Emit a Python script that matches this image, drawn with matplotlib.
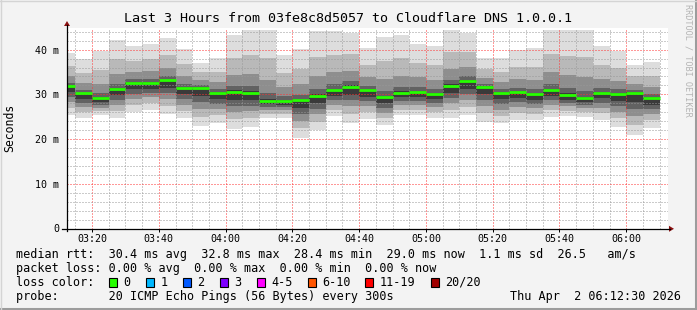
import matplotlib
matplotlib.use("Agg")
import matplotlib.pyplot as plt
import matplotlib.dates as mdates
from matplotlib.lines import Line2D
from matplotlib.patches import Polygon, Rectangle
from matplotlib.ticker import MultipleLocator, FuncFormatter
import pandas as pd

# 5 minute rounds (end of each round), 03:15 .. 06:10
rounds = pd.date_range("2026-04-02 03:15", "2026-04-02 06:10", freq="5min")

median = [31.9, 30.2, 29.1, 31.3, 32.6, 32.6, 33.1, 31.5, 31.5, 30.4,
          30.6, 30.4, 28.6, 28.6, 28.8, 29.7, 30.9, 31.7, 30.9, 29.4,
          30.4, 30.6, 30.1, 31.9, 32.9, 31.7, 30.4, 30.6, 30.1, 30.9,
          29.9, 29.2, 30.4, 30.1, 30.4, 29.2]
ping_min = [25.4, 24.8, 25.3, 24.6, 26.0, 26.6, 25.5, 24.6, 22.9, 23.7,
            22.3, 22.8, 24.8, 24.6, 20.3, 22.0, 25.1, 23.7, 24.4, 23.1,
            25.3, 25.3, 24.6, 24.8, 25.3, 23.8, 23.5, 24.2, 24.3, 25.0,
            25.1, 25.0, 24.3, 22.8, 20.8, 22.5]
ping_max = [39.2, 37.8, 39.7, 42.1, 40.8, 41.3, 42.6, 40.1, 37.1, 38.1,
            43.2, 44.4, 44.4, 38.8, 40.1, 44.2, 44.2, 43.8, 40.4, 42.8,
            43.2, 41.2, 40.8, 44.4, 43.8, 38.2, 38.2, 39.9, 40.3, 44.4,
            44.4, 44.4, 40.8, 39.6, 36.6, 37.3]

# inner smoke layers, outer to inner
band2_lo = [27.0, 26.1, 26.2, 26.3, 27.6, 28.1, 27.4, 26.3, 25.0, 25.4,
            24.4, 24.7, 25.7, 25.6, 22.4, 23.9, 26.5, 25.7, 26.0, 24.7,
            26.6, 26.6, 26.0, 26.6, 27.2, 25.8, 25.2, 25.8, 25.7, 26.5,
            26.3, 26.0, 25.8, 24.6, 23.2, 24.2]
band2_hi = [36.3, 34.8, 35.5, 37.8, 37.5, 37.8, 38.8, 36.7, 34.9, 35.0,
            38.2, 38.8, 38.1, 34.7, 35.6, 38.4, 38.9, 39.0, 36.6, 37.4,
            38.1, 37.0, 36.5, 39.4, 39.4, 35.6, 35.1, 36.2, 36.2, 39.0,
            38.6, 38.3, 36.6, 35.8, 34.1, 34.1]
band3_lo = [28.3, 27.2, 27.0, 27.6, 29.0, 29.3, 28.9, 27.7, 26.8, 26.7,
            26.0, 26.2, 26.5, 26.4, 24.1, 25.5, 27.7, 27.3, 27.3, 25.9,
            27.6, 27.7, 27.1, 28.0, 28.7, 27.4, 26.6, 27.1, 26.9, 27.7,
            27.3, 26.9, 27.0, 26.1, 25.1, 25.5]
band3_hi = [34.1, 32.5, 32.3, 34.5, 35.1, 35.2, 36.0, 34.1, 33.2, 32.7,
            34.4, 34.6, 33.3, 31.7, 32.2, 34.1, 34.9, 35.3, 33.8, 33.4,
            34.2, 33.8, 33.3, 35.7, 36.2, 33.7, 32.7, 33.4, 33.2, 35.0,
            34.3, 33.8, 33.5, 33.0, 32.3, 31.6]
band4_lo = [29.4, 28.1, 27.7, 28.8, 30.1, 30.3, 30.2, 28.9, 28.2, 27.9,
            27.4, 27.5, 27.2, 27.1, 25.6, 26.8, 28.7, 28.7, 28.4, 27.0,
            28.5, 28.6, 28.0, 29.2, 30.0, 28.7, 27.8, 28.2, 27.9, 28.7,
            28.1, 27.6, 28.1, 27.3, 26.8, 26.7]
band4_hi = [32.6, 31.0, 30.2, 32.4, 33.4, 33.5, 34.1, 32.4, 32.1, 31.2,
            31.9, 31.8, 30.2, 29.6, 29.9, 31.1, 32.2, 32.9, 31.9, 30.7,
            31.7, 31.7, 31.2, 33.2, 34.0, 32.4, 31.2, 31.5, 31.1, 32.3,
            31.4, 30.7, 31.4, 31.1, 31.0, 30.0]
band5_lo = [30.5, 29.0, 28.3, 29.8, 31.1, 31.3, 31.4, 30.0, 29.6, 28.9,
            28.8, 28.7, 27.8, 27.7, 26.9, 28.0, 29.6, 29.9, 29.5, 28.0,
            29.3, 29.4, 28.9, 30.3, 31.2, 30.0, 28.9, 29.2, 28.8, 29.6,
            28.8, 28.3, 29.1, 28.5, 28.3, 27.7]
band5_hi = [32.1, 30.4, 29.3, 31.5, 32.8, 32.8, 33.3, 31.7, 31.7, 30.6,
            30.9, 30.7, 28.9, 28.8, 29.0, 30.0, 31.2, 32.0, 31.1, 29.7,
            30.7, 30.8, 30.3, 32.2, 33.1, 31.8, 30.6, 30.8, 30.3, 31.2,
            30.2, 29.5, 30.6, 30.3, 30.5, 29.4]

loss_labels = ["0", "1", "2", "3", "4-5", "6-10", "11-19", "20/20"]
loss_colors = ["#26ff00", "#00b8ff", "#0059ff", "#7e00ff",
               "#ff00ff", "#ff5500", "#ff0000", "#a10000"]

W, H = 697, 310
BG = "#f3f3f3"
MONO = "DejaVu Sans Mono"


def fx(x):
    return x / W


def fy(y):
    return 1 - y / H


fig = plt.figure(figsize=(W / 100, H / 100), dpi=100, facecolor=BG)
ax = fig.add_axes([fx(67), fy(228.5), fx(668) - fx(67), fy(27.7) - fy(228.5)])
ax.set_facecolor("white")

t0 = pd.Timestamp("2026-04-02 03:12:30")
t1 = pd.Timestamp("2026-04-02 06:12:30")
step = pd.Timedelta("5min")
width = 5 / 1440
left = mdates.date2num(rounds - step)

# smoke, outer layer first
layers = [(ping_min, ping_max, "#dddddd"),
          (band2_lo, band2_hi, "#b9b9b9"),
          (band3_lo, band3_hi, "#8e8e8e"),
          (band4_lo, band4_hi, "#626262"),
          (band5_lo, band5_hi, "#3a3a3a")]
for lo, hi, col in layers:
    ax.bar(left, [h - l for l, h in zip(lo, hi)], bottom=lo, width=width,
           align="edge", color=col, linewidth=0, zorder=1)

ax.hlines(median, left, left + width, colors=loss_colors[0], linewidth=2.0,
          zorder=3)

ax.set_xlim(mdates.date2num(t0), mdates.date2num(t1))
ax.set_ylim(0, 44.9)

ax.xaxis.set_major_locator(mdates.MinuteLocator(byminute=[0, 20, 40]))
ax.xaxis.set_minor_locator(mdates.MinuteLocator(byminute=range(0, 60, 5)))
ax.xaxis.set_major_formatter(mdates.DateFormatter("%H:%M"))
ax.yaxis.set_major_locator(MultipleLocator(10))
ax.yaxis.set_minor_locator(MultipleLocator(2))
ax.yaxis.set_major_formatter(FuncFormatter(lambda v, p: "0" if v == 0 else f"{v:.0f} m"))

ax.set_axisbelow(False)
ax.grid(which="minor", color=(0.6, 0.6, 0.6, 0.6), linestyle=(0, (1, 2)), linewidth=0.72)
ax.grid(which="major", color=(1, 0.2, 0.2, 0.45), linestyle=(0, (1, 2)), linewidth=0.72)

ax.tick_params(which="major", axis="x", length=2.2, width=0.72, color="black",
               pad=1.5, labelsize=7.2)
ax.tick_params(which="major", axis="y", length=0, pad=5.5, labelsize=7.2)
ax.tick_params(which="minor", length=0)
for lab in ax.get_xticklabels() + ax.get_yticklabels():
    lab.set_family(MONO)
for s in ax.spines.values():
    s.set_visible(False)

# axes with arrows
fig.add_artist(Line2D([fx(67), fx(67)], [fy(231), fy(25)], color="black", lw=0.9))
fig.add_artist(Line2D([fx(62), fx(670)], [fy(228.8), fy(228.8)], color="black", lw=0.9))
fig.add_artist(Polygon([(fx(64), fy(26)), (fx(70), fy(26)), (fx(67), fy(21))],
                       closed=True, color="#8b1010", lw=0))
fig.add_artist(Polygon([(fx(669), fy(225.8)), (fx(669), fy(231.8)), (fx(674), fy(228.8))],
                       closed=True, color="#8b1010", lw=0))

# frame
fig.add_artist(Line2D([0, 1], [fy(308.5), fy(308.5)], color="#9c9c9c", lw=2.2))
fig.add_artist(Line2D([fx(695.5), fx(695.5)], [0, 1], color="#9c9c9c", lw=2.2))
fig.add_artist(Line2D([0, 1], [fy(0.5), fy(0.5)], color="#d4d4d4", lw=1))
fig.add_artist(Line2D([fx(0.5), fx(0.5)], [0, 1], color="#d4d4d4", lw=1))

fig.text(fx(348), fy(19), "Last 3 Hours from 03fe8c8d5057 to Cloudflare DNS 1.0.0.1",
         ha="center", va="center", family=MONO, fontsize=9.6, color="black")
fig.text(fx(10), fy(128), "Seconds", rotation=90, ha="center", va="center",
         family=MONO, fontsize=8.3)
fig.text(fx(688), fy(4), "RRDTOOL / TOBI OETIKER", rotation=270, ha="center", va="top",
         family=MONO, fontsize=6.1, color="#b4b4b4")

lines = [
    "median rtt:  30.4 ms avg  32.8 ms max  28.4 ms min  29.0 ms now  1.1 ms sd  26.5   am/s",
    "packet loss: 0.00 % avg  0.00 % max  0.00 % min  0.00 % now",
    "loss color:",
    "probe:       20 ICMP Echo Pings (56 Bytes) every 300s",
]
rows_y = [254.3, 268.2, 282.3, 296.2]
for txt, yy in zip(lines, rows_y):
    fig.text(fx(16), fy(yy), txt, ha="left", va="center", family=MONO, fontsize=8.5)

box_x = [108.5, 145.5, 182.5, 219.5, 256.5, 307.5, 365, 430.5]
for lab, col, bx in zip(loss_labels, loss_colors, box_x):
    fig.add_artist(Rectangle((fx(bx), fy(286.5)), fx(8), fy(278) - fy(286.5),
                             facecolor=col, edgecolor="black", lw=0.8))
    fig.text(fx(bx + 15), fy(282.3), lab, ha="left", va="center", family=MONO,
             fontsize=8.5)

fig.text(fx(681), fy(296.2), "Thu Apr  2 06:12:30 2026", ha="right", va="center",
         family=MONO, fontsize=8.5)

fig.savefig("out.png", dpi=100, facecolor=BG)
